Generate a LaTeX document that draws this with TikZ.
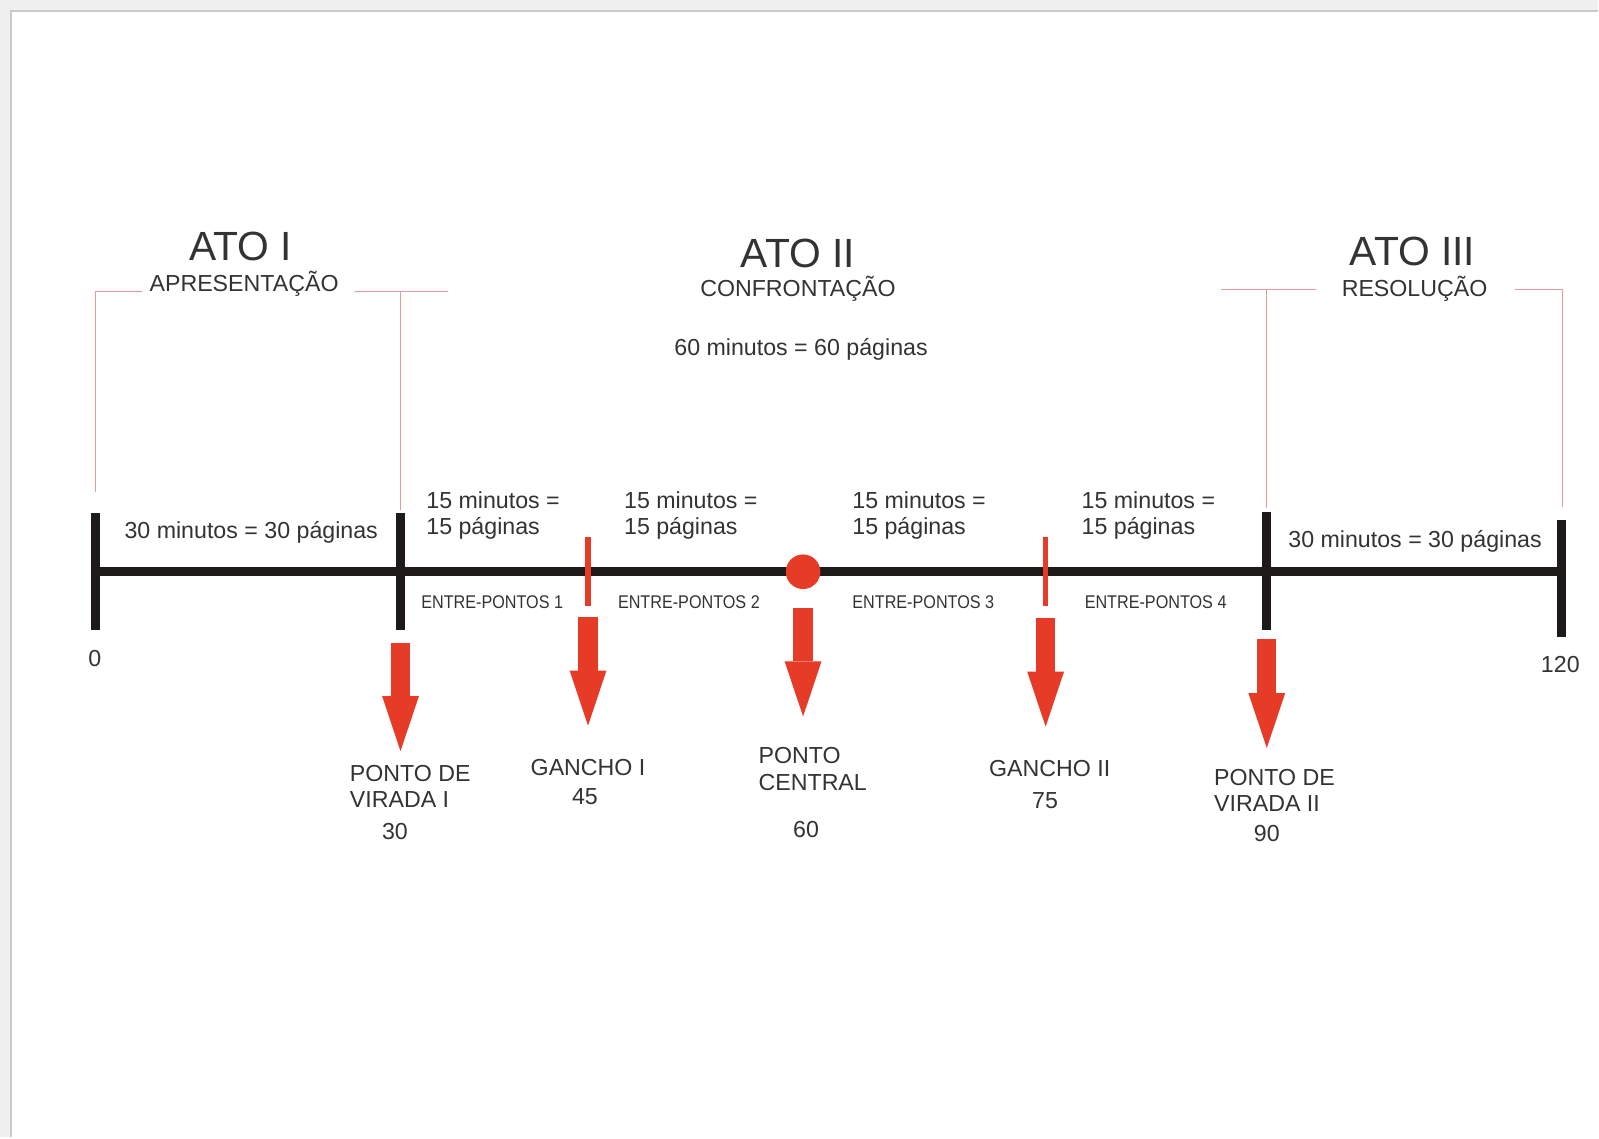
\documentclass[tikz,border=0pt]{standalone}
\usepackage{fontspec}
\setmainfont{Liberation Sans}
\newfontfamily\narrowfont{Liberation Sans}[FakeStretch=0.88]
\usetikzlibrary{arrows.meta}
\definecolor{txt}{HTML}{333333}
\definecolor{barblk}{HTML}{1E1A1A}
\definecolor{hotred}{HTML}{E63B27}
\definecolor{pinkline}{HTML}{E39A9A}
\definecolor{pagegray}{HTML}{EFEFEF}
\definecolor{edgegray}{HTML}{C9C9C9}
\tikzset{
  lbl/.style={font=\fontsize{11.6}{13.1}\selectfont, text=txt, inner sep=0pt},
  multilbl/.style={lbl, align=left, anchor=base west},
  acttitle/.style={font=\fontsize{20.4}{24}\selectfont, text=txt, inner sep=0pt, anchor=base},
  between/.style={font=\narrowfont\fontsize{9.2}{11}\selectfont, text=txt, inner sep=0pt, anchor=base west},
  bar/.style={draw=barblk, line width=4.5pt},
  redtick/.style={draw=hotred, line width=2.7pt},
  bracket/.style={draw=pinkline, line width=0.7pt},
  bigarrow/.style={draw=hotred, line width=9.7pt,
    -{Triangle[width=18.4pt, length=27.5pt, line width=0pt, fill=hotred]}},
}
\begin{document}
\begin{tikzpicture}[x=0.5099pt, y=-0.5099pt]
% page frame
\fill[pagegray] (0,0) rectangle (1568,1116);
\fill[white] (11,11) rectangle (1568,1116);
\draw[edgegray, line width=1pt] (11,1116) -- (11,11) -- (1568,11);
\useasboundingbox (0,0) rectangle (1568,1116);

% timeline points
\coordinate (t0) at (94,561);
\coordinate (t30) at (393,561);
\coordinate (t45) at (577,561);
\coordinate (t60) at (788,561);
\coordinate (t75) at (1026,561);
\coordinate (t90) at (1243,561);
\coordinate (t120) at (1532,561);

% brackets (thin red)
\coordinate (b1a) at (94,483);
\coordinate (b1b) at (94,286);
\coordinate (b1c) at (139,286);
\coordinate (b2a) at (348,286);
\coordinate (b2b) at (440,286);
\coordinate (b2c) at (393,286);
\coordinate (b2d) at (393,500);
\coordinate (b3a) at (1198,284);
\coordinate (b3b) at (1291,284);
\coordinate (b3c) at (1243,284);
\coordinate (b3d) at (1243,498);
\coordinate (b4a) at (1487,284);
\coordinate (b4b) at (1533,284);
\coordinate (b4c) at (1533,497);
\draw[bracket] (b1a) -- (b1b) -- (b1c);
\draw[bracket] (b2a) -- (b2b);
\draw[bracket] (b2c) -- (b2d);
\draw[bracket] (b3a) -- (b3b);
\draw[bracket] (b3c) -- (b3d);
\draw[bracket] (b4a) -- (b4b) -- (b4c);

% axis
\draw[bar] (t0) -- (t120);
% black ticks
\coordinate (k0a) at (94,503);   \coordinate (k0b) at (94,618);
\coordinate (k30a) at (393,503); \coordinate (k30b) at (393,618);
\coordinate (k90a) at (1243,502); \coordinate (k90b) at (1243,618);
\coordinate (k120a) at (1532,510); \coordinate (k120b) at (1532,625);
\draw[bar] (k0a) -- (k0b);
\draw[bar] (k30a) -- (k30b);
\draw[bar] (k90a) -- (k90b);
\draw[bar] (k120a) -- (k120b);
% red ticks
\coordinate (r45a) at (577,527); \coordinate (r45b) at (577,595);
\coordinate (r75a) at (1026,527); \coordinate (r75b) at (1026,595);
\draw[redtick] (r45a) -- (r45b);
\draw[redtick] (r75a) -- (r75b);
% central dot
\node[circle, fill=hotred, minimum size=17.3pt, inner sep=0pt] (c60) at (t60) {};

% titles
\node[acttitle] (ato1) at (236,256) {ATO I};
\node[lbl, anchor=base] (apr) at (239.5,286) {APRESENTAÇÃO};
\node[acttitle] (ato2) at (783,262) {ATO II};
\node[lbl, anchor=base] (conf) at (783,291) {CONFRONTAÇÃO};
\node[lbl, anchor=base] (sixty) at (786,349) {60 minutos = 60 páginas};
\node[acttitle] (ato3) at (1386,260.5) {ATO III};
\node[lbl, anchor=base] (res) at (1388,291) {RESOLUÇÃO};

% durations above axis (base = last line)
\node[lbl, anchor=base] (d1) at (246.5,528.5) {30 minutos = 30 páginas};
\node[lbl, anchor=base] (d6) at (1388.5,537) {30 minutos = 30 páginas};
\node[multilbl] (d2) at (418,524.6) {15 minutos =\\15 páginas};
\node[multilbl] (d3) at (612,524.6) {15 minutos =\\15 páginas};
\node[multilbl] (d4) at (836,524.6) {15 minutos =\\15 páginas};
\node[multilbl] (d5) at (1061,524.6) {15 minutos =\\15 páginas};

% between-points labels
\node[between] (e1) at (413,597) {ENTRE-PONTOS 1};
\node[between] (e2) at (606,597) {ENTRE-PONTOS 2};
\node[between] (e3) at (836,597) {ENTRE-PONTOS 3};
\node[between] (e4) at (1064,597) {ENTRE-PONTOS 4};

% end numbers
\node[lbl, anchor=base] (n0) at (93,654) {0};
\node[lbl, anchor=base] (n120) at (1531,659.5) {120};

% arrows
\coordinate (a30s) at (393,631);  \coordinate (a30e) at (393,737);
\coordinate (a45s) at (577,605);  \coordinate (a45e) at (577,712);
\coordinate (a60s) at (788,597);  \coordinate (a60e) at (788,703);
\coordinate (a75s) at (1026,606); \coordinate (a75e) at (1026,713);
\coordinate (a90s) at (1243,627); \coordinate (a90e) at (1243,734);
\draw[bigarrow] (a30s) -- (a30e);
\draw[bigarrow] (a45s) -- (a45e);
\draw[bigarrow] (a60s) -- (a60e);
\draw[bigarrow] (a75s) -- (a75e);
\draw[bigarrow] (a90s) -- (a90e);

% labels under arrows (base = last line)
\node[multilbl] (p30) at (343,792.6) {PONTO DE\\VIRADA I};
\node[lbl, anchor=base] (v30) at (387.5,823.7) {30};
\node[lbl, anchor=base] (p45) at (577,760.6) {GANCHO I};
\node[lbl, anchor=base] (v45) at (574,789.4) {45};
\node[multilbl] (p60) at (744,775.3) {PONTO\\CENTRAL};
\node[lbl, anchor=base] (v60) at (791,822) {60};
\node[lbl, anchor=base] (p75) at (1030,762) {GANCHO II};
\node[lbl, anchor=base] (v75) at (1025.5,793) {75};
\node[multilbl] (p90) at (1191,796) {PONTO DE\\VIRADA II};
\node[lbl, anchor=base] (v90) at (1243,825.6) {90};
\end{tikzpicture}
\end{document}
